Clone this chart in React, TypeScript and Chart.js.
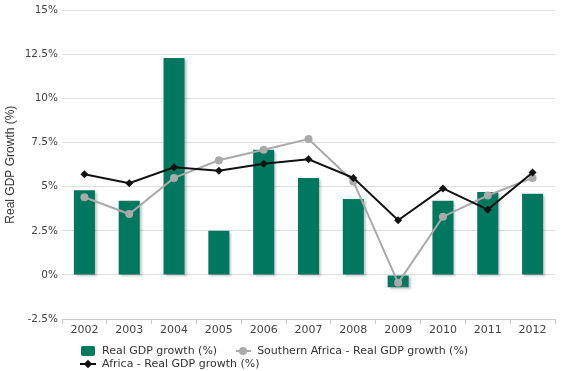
import React, { useEffect, useRef } from 'react';
import { Chart, registerables } from 'chart.js';
Chart.register(...registerables);

const years = ['2002', '2003', '2004', '2005', '2006', '2007', '2008', '2009', '2010', '2011', '2012'];
const realGdpGrowth = [4.8, 4.2, 12.3, 2.5, 7.1, 5.5, 4.3, -0.7, 4.2, 4.7, 4.6];
const southernAfricaGrowth = [4.4, 3.45, 5.5, 6.5, 7.1, 7.7, 5.3, -0.45, 3.3, 4.5, 5.5];
const africaGrowth = [5.7, 5.2, 6.1, 5.9, 6.3, 6.55, 5.5, 3.1, 4.9, 3.7, 5.8];
const yMin = -2.5;
const yMax = 15;
const yStep = 2.5;

const labelFont = '"DejaVu Sans", Verdana, sans-serif';

const barShadow = {
  id: 'barShadow',
  beforeDatasetDraw(chart: any, args: any) {
    if (args.index === 0) {
      const ctx = chart.ctx;
      ctx.save();
      ctx.shadowColor = 'rgba(0,0,0,0.22)';
      ctx.shadowOffsetX = 2;
      ctx.shadowOffsetY = 2;
      ctx.shadowBlur = 2;
    }
  },
  afterDatasetDraw(chart: any, args: any) {
    if (args.index === 0) chart.ctx.restore();
  },
};

export default function App() {
  const ref = useRef<HTMLCanvasElement | null>(null);
  useEffect(() => {
    if (!ref.current) return;
    const chart = new Chart(ref.current, {
      type: 'bar',
      data: {
        labels: years,
        datasets: [
          {
            type: 'bar',
            label: 'Real GDP growth (%)',
            data: realGdpGrowth,
            backgroundColor: '#00775f',
            borderWidth: 0,
            categoryPercentage: 1,
            barPercentage: 0.47,
            order: 3,
          },
          {
            type: 'line',
            label: 'Southern Africa - Real GDP growth (%)',
            data: southernAfricaGrowth,
            borderColor: '#aaaaaa',
            backgroundColor: '#aaaaaa',
            borderWidth: 2,
            pointRadius: 4,
            pointStyle: 'circle',
            pointBorderWidth: 0,
            tension: 0,
            order: 2,
          },
          {
            type: 'line',
            label: 'Africa - Real GDP growth (%)',
            data: africaGrowth,
            borderColor: '#111111',
            backgroundColor: '#111111',
            borderWidth: 2,
            pointRadius: 4,
            pointStyle: 'rectRot',
            pointBorderWidth: 0,
            tension: 0,
            order: 1,
          },
        ] as any,
      },
      options: {
        animation: false,
        responsive: false,
        maintainAspectRatio: false,
        layout: { padding: { top: 2, right: 9, bottom: 32, left: 0 } },
        plugins: {
          legend: { display: false },
          tooltip: { enabled: false },
        },
        scales: {
          x: {
            grid: { display: true, drawOnChartArea: false, drawTicks: true, tickLength: 5, color: '#cccccc', offset: true },
            border: { display: false },
            ticks: { font: { family: labelFont, size: 11 }, color: '#444444', padding: 0, maxRotation: 0 },
            afterFit: (s: any) => { s.height = 20; },
          },
          y: {
            min: yMin,
            max: yMax,
            ticks: {
              stepSize: yStep,
              font: { family: labelFont, size: 10.5 },
              color: '#444444',
              padding: 4,
              callback: (v: any) => `${v}%`,
            },
            grid: {
              drawTicks: false,
              color: (c: any) => (c.tick && c.tick.value === yMin ? '#c8c8c8' : '#dedede'),
            },
            border: { display: false },
            title: {
              display: true,
              text: 'Real GDP Growth (%)',
              font: { family: '"Liberation Sans", Arial, sans-serif', size: 12 },
              color: '#333333',
              padding: { top: 3, bottom: 0 },
            },
            afterFit: (s: any) => { s.width = 62; },
          },
        },
      },
      plugins: [barShadow],
    });
    return () => chart.destroy();
  }, []);

  const textStyle: React.CSSProperties = {
    fontFamily: labelFont,
    fontSize: 11,
    color: '#333333',
    whiteSpace: 'nowrap',
    lineHeight: '13px',
  };

  return (
    <div style={{ position: 'absolute', left: 0, top: 0, width: 564, height: 371, background: '#ffffff' }}>
      <canvas ref={ref} width={564} height={371} style={{ display: 'block' }} />
      <div style={{ position: 'absolute', left: 81, top: 344, display: 'flex', alignItems: 'center' }}>
        <span style={{ display: 'inline-block', width: 14, height: 10, background: '#00775f', borderRadius: 2, marginRight: 7 }} />
        <span style={textStyle}>Real GDP growth (%)</span>
        <span style={{ position: 'relative', display: 'inline-block', width: 15, height: 10, marginLeft: 19, marginRight: 6 }}>
          <span style={{ position: 'absolute', left: 0, top: 4, width: 15, height: 2, background: '#aaaaaa' }} />
          <span style={{ position: 'absolute', left: 3, top: 1, width: 8, height: 8, borderRadius: 4, background: '#aaaaaa' }} />
        </span>
        <span style={textStyle}>Southern Africa - Real GDP growth (%)</span>
      </div>
      <div style={{ position: 'absolute', left: 80, top: 357, display: 'flex', alignItems: 'center' }}>
        <span style={{ position: 'relative', display: 'inline-block', width: 16, height: 10, marginRight: 6 }}>
          <span style={{ position: 'absolute', left: 0, top: 4, width: 16, height: 2, background: '#111111' }} />
          <span style={{ position: 'absolute', left: 5, top: 2, width: 6, height: 6, background: '#111111', transform: 'rotate(45deg)' }} />
        </span>
        <span style={textStyle}>Africa - Real GDP growth (%)</span>
      </div>
    </div>
  );
}
